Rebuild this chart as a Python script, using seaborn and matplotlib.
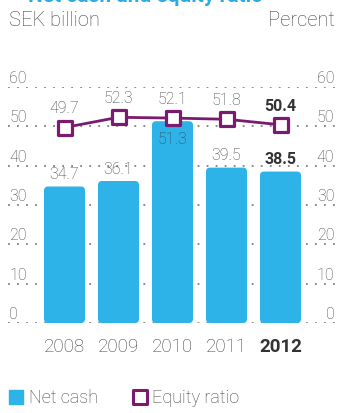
import matplotlib
matplotlib.use("Agg")
import matplotlib.pyplot as plt
import matplotlib.transforms as mtransforms
from matplotlib.patches import FancyBboxPatch
from matplotlib.lines import Line2D
from matplotlib.markers import MarkerStyle
import numpy as np
import pandas as pd
import seaborn as sns

# Data
years = ["2008", "2009", "2010", "2011", "2012"]
net_cash = [34.7, 36.1, 51.3, 39.5, 38.5]          # SEK billion
equity_ratio = [49.7, 52.3, 52.1, 51.8, 50.4]      # percent
y_ticks = [0, 10, 20, 30, 40, 50, 60]

BLUE = "#2DB3E8"
PURPLE = "#7B1B6F"
GREY = "#444444"
DARK = "#333333"
GRID = "#808080"

sns.set_theme(style="white")
plt.rcParams["font.family"] = ["Roboto", "Liberation Sans", "DejaVu Sans"]
plt.rcParams["font.weight"] = "light"

W, H = 339, 413
fig = plt.figure(figsize=(W / 100, H / 100), dpi=100)
ax = fig.add_axes([8 / W, (H - 323) / H, 327 / W, 236 / H])

df = pd.DataFrame({"year": years, "net_cash": net_cash, "equity": equity_ratio})
sns.barplot(data=df, x="year", y="net_cash", color=BLUE, saturation=1,
            width=41 / 54, ax=ax, zorder=2)

ax.set_xlim(-56.5 / 54, 4 + 54.5 / 54)
ax.set_ylim(0, 60)

# rounded bar corners, same bounds as the seaborn bars
px_x = 1 / 54
px_y = 60 / 236
radius = 4 * px_x
aspect = (4 * px_y) / radius
for p in list(ax.patches):
    x0, y0, w, h = p.get_x(), p.get_y(), p.get_width(), p.get_height()
    p.remove()
    ax.add_patch(FancyBboxPatch((x0, y0), w, h,
                                boxstyle=f"round,pad=0,rounding_size={radius}",
                                mutation_aspect=aspect, fc=BLUE, ec="none",
                                zorder=2))

# dotted grid
ax.set_yticks(y_ticks)
ax.set_yticklabels([])
ax.grid(axis="y", color=GRID, linestyle=(0, (1, 4)), linewidth=1.3)
ax.grid(axis="x", visible=False)
ax.set_axisbelow(True)
for s in ax.spines.values():
    s.set_visible(False)
ax.tick_params(length=0)
ax.set_xlabel("")
ax.set_ylabel("")
ax.tick_params(axis="x", pad=11, labelsize=13.5, labelcolor=GREY)
for lbl in ax.get_xticklabels():
    if lbl.get_text() == "2012":
        lbl.set_fontweight("bold")
        lbl.set_color(DARK)

# tick values written above the grid lines on both sides
lift = mtransforms.ScaledTranslation(0, 3 / 72, fig.dpi_scale_trans)
blend = mtransforms.blended_transform_factory(ax.transAxes, ax.transData)
for t in y_ticks:
    ax.text(0.004, t, str(t), transform=blend + lift, ha="left",
            va="baseline", fontsize=11.5, color=GREY)
    ax.text(0.998, t, str(t), transform=blend + lift, ha="right",
            va="baseline", fontsize=11.5, color=GREY)

# equity ratio on the percent axis
ax2 = ax.twinx()
ax2.set_ylim(0, 60)
pos = np.arange(len(years))
marker = MarkerStyle("s", joinstyle="round")
sns.lineplot(x=pos, y=equity_ratio, ax=ax2, color=PURPLE, linewidth=2,
             marker=marker, markersize=10.5, markerfacecolor="white",
             markeredgecolor=PURPLE, markeredgewidth=2.3, zorder=3)
ax2.set_xlim(ax.get_xlim())
ax2.set_yticks([])
ax2.set_ylabel("")
for s in ax2.spines.values():
    s.set_visible(False)

# value labels
last = len(years) - 1
for i, (v, e) in enumerate(zip(net_cash, equity_ratio)):
    bold = i == last
    inside = v > e - 5
    ax2.annotate(f"{v:.1f}", (i, v), xytext=(0, -8 if inside else 3),
                 textcoords="offset points", ha="center",
                 va="top" if inside else "bottom", fontsize=11.5,
                 color=DARK if bold else ("#34495a" if inside else GREY),
                 fontweight="bold" if bold else "light", zorder=4)
    ax2.annotate(f"{e:.1f}", (i, e), xytext=(0, 8),
                 textcoords="offset points", ha="center", va="bottom",
                 fontsize=11.5, color=DARK if bold else GREY,
                 fontweight="bold" if bold else "light", zorder=4)

# headings
fig.text(28 / W, 1 - 1.5 / H, "Net cash and equity ratio", color="#2AACE2",
         fontsize=15, fontweight="bold", ha="left", va="baseline")
fig.text(9 / W, 1 - 21 / H, "SEK billion", color=GREY, fontsize=14.5,
         ha="left", va="center")
fig.text(335 / W, 1 - 21 / H, "Percent", color=GREY, fontsize=14.5,
         ha="right", va="center")

# legend
handles = [
    Line2D([], [], linestyle="none", marker=MarkerStyle("s", joinstyle="round"),
           markersize=10, markerfacecolor=BLUE, markeredgecolor=BLUE,
           markeredgewidth=1),
    Line2D([], [], linestyle="none", marker=MarkerStyle("s", joinstyle="round"),
           markersize=9.5, markerfacecolor="white", markeredgecolor=PURPLE,
           markeredgewidth=2.2),
]
fig.legend(handles, ["Net cash", "Equity ratio"], loc="lower left",
           bbox_to_anchor=(-0.005, -0.012), ncol=2, frameon=False,
           handlelength=0.8, handletextpad=0.3, columnspacing=1.9,
           borderaxespad=0.2, fontsize=13, labelcolor=GREY)

fig.savefig("out.png", dpi=100)
